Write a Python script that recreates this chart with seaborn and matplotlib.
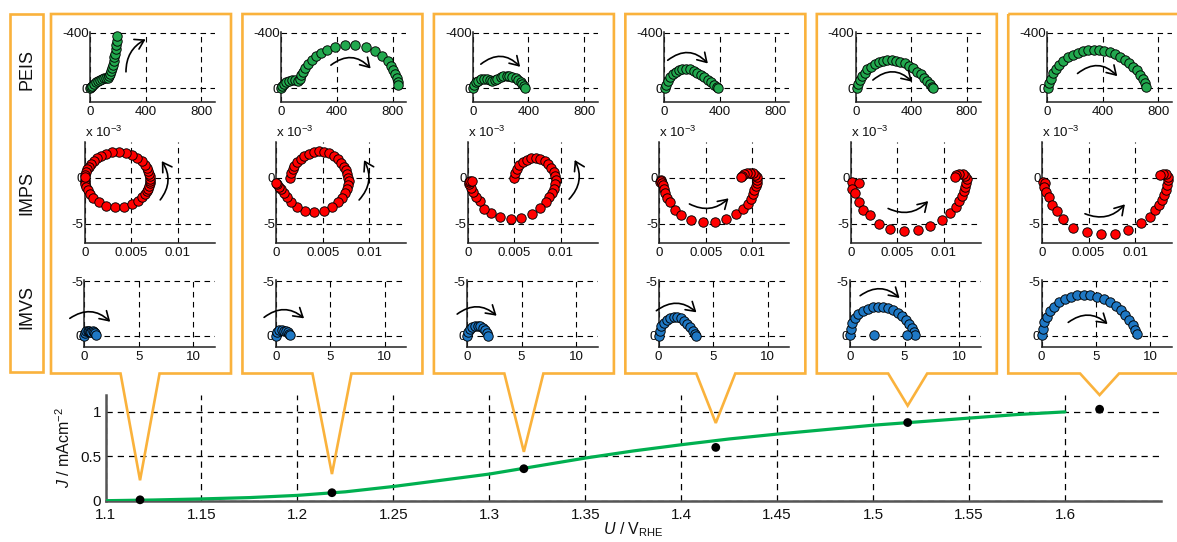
import matplotlib
matplotlib.use("Agg")
import matplotlib.pyplot as plt
import seaborn as sns
from matplotlib.patches import Polygon, Rectangle

# ---------------- data ----------------
# PEIS (Z' / Ohm, Z'' / Ohm)
peis1_re = [0, 8, 16, 28, 40, 55, 70, 85, 100, 115, 130, 140, 146, 152, 158, 164, 170, 175, 180, 184, 188, 192, 196]
peis1_im = [0, -10, -20, -32, -45, -55, -62, -68, -72, -75, -78, -88, -105, -125, -148, -170, -195, -222, -250, -280, -310, -342, -376]
peis2_re = [0, 7, 19, 36, 56, 78, 99, 119, 133, 143, 155, 172, 194, 218, 250, 284, 327, 388, 461, 533, 606, 671, 725, 764, 788, 805, 819, 829, 836, 841]
peis2_im = [0, -17, -31, -43, -52, -57, -57, -55, -67, -93, -121, -150, -178, -207, -236, -257, -278, -300, -314, -312, -298, -269, -236, -200, -164, -131, -102, -74, -48, -21]
peis3_re = [0, 7, 19, 36, 55, 77, 98, 120, 139, 158, 177, 199, 220, 242, 263, 285, 307, 326, 343, 357, 367, 374]
peis3_im = [0, -24, -43, -55, -64, -69, -67, -60, -55, -57, -67, -79, -86, -90, -88, -83, -74, -60, -45, -31, -17, -2]
peis4_re = [5, 12, 24, 41, 60, 82, 106, 130, 157, 183, 210, 236, 263, 289, 313, 337, 359, 378, 388]
peis4_im = [0, -24, -52, -79, -102, -121, -133, -140, -140, -136, -126, -112, -95, -79, -60, -43, -26, -12, 0]
peis5_re = [7, 14, 27, 43, 63, 84, 108, 135, 164, 195, 227, 258, 289, 321, 352, 383, 415, 443, 470, 494, 516, 535, 552, 559]
peis5_im = [0, -31, -60, -88, -114, -138, -157, -174, -188, -198, -202, -202, -198, -190, -179, -162, -143, -121, -100, -76, -52, -31, -12, 0]
peis6_re = [7, 15, 27, 44, 63, 87, 116, 148, 182, 218, 257, 296, 335, 373, 412, 451, 487, 524, 558, 589, 618, 645, 669, 689, 703, 713]
peis6_im = [0, -36, -71, -107, -140, -171, -200, -224, -243, -257, -269, -274, -276, -274, -269, -259, -245, -229, -207, -183, -157, -129, -98, -67, -36, -7]

# IMPS (x 1e-3)
imps1_re = [0.00, 0.01, 0.05, 0.14, 0.28, 0.53, 0.90, 1.49, 2.30, 3.26, 4.23, 5.09, 5.75, 6.18, 6.47, 6.67, 6.81, 6.91, 6.97, 7.00,
            7.00, 6.97, 6.92, 6.83, 6.67, 6.44, 6.10, 5.65, 5.09, 4.41, 3.68, 2.95, 2.30, 1.75, 1.30, 0.94, 0.63, 0.41, 0.25, 0.14, 0.05, 0.02]
imps1_im = [-0.20, -0.46, -0.72, -1.03, -1.37, -1.79, -2.21, -2.66, -3.02, -3.19, -3.13, -2.87, -2.50, -2.13, -1.79, -1.47, -1.18, -0.88, -0.62, -0.36,
            -0.10, 0.17, 0.42, 0.73, 1.07, 1.43, 1.81, 2.16, 2.47, 2.70, 2.80, 2.76, 2.62, 2.40, 2.13, 1.85, 1.52, 1.21, 0.92, 0.63, 0.32, 0.11]
imps2_re = [1.51, 1.58, 1.73, 1.94, 2.23, 2.59, 3.02, 3.49, 4.03, 4.57, 5.11, 5.65, 6.19, 6.62, 6.98, 7.27, 7.49, 7.63, 7.74, 7.78,
            7.74, 7.63, 7.42, 7.09, 6.66, 6.01, 5.11, 4.03, 3.06, 2.23, 1.58, 1.15, 0.79, 0.50, 0.25, 0.07, 0.00]
imps2_im = [0.00, 0.47, 0.90, 1.30, 1.66, 2.02, 2.34, 2.59, 2.77, 2.84, 2.81, 2.63, 2.34, 1.98, 1.58, 1.19, 0.79, 0.40, 0.00, -0.40,
            -0.79, -1.22, -1.69, -2.20, -2.66, -3.13, -3.56, -3.74, -3.64, -3.20, -2.59, -2.05, -1.62, -1.26, -0.97, -0.72, -0.54]
imps3_re = [4.96, 5.07, 5.25, 5.54, 5.90, 6.34, 6.81, 7.31, 7.78, 8.25, 8.65, 8.98, 9.23, 9.38, 9.45, 9.41, 9.27, 9.05, 8.76, 8.36,
            7.78, 6.88, 5.76, 4.67, 3.51, 2.50, 1.70, 1.27, 0.87, 0.54, 0.33, 0.14, 0.07, 0.25, 0.47]
imps3_im = [0.00, 0.47, 0.90, 1.34, 1.70, 1.95, 2.10, 2.17, 2.06, 1.81, 1.45, 1.05, 0.62, 0.18, -0.25, -0.72, -1.19, -1.67, -2.14, -2.64,
            -3.29, -3.91, -4.34, -4.49, -4.24, -3.87, -3.40, -2.57, -2.06, -1.59, -1.12, -0.72, -0.47, -0.36, -0.40]
imps4_re = [0.04, 0.22, 0.14, 0.29, 0.36, 0.47, 0.65, 0.86, 1.15, 1.69, 2.30, 3.42, 4.75, 6.01, 7.20, 8.24, 9.00, 9.50, 9.83, 10.04,
            10.22, 10.37, 10.48, 10.51, 10.48, 10.33, 10.08, 9.76, 9.43, 9.14, 8.89, 8.78]
imps4_im = [-0.43, -0.25, -0.36, -0.54, -0.83, -1.22, -1.69, -2.16, -2.66, -3.49, -4.03, -4.57, -4.82, -4.75, -4.46, -3.92, -3.38, -2.81, -2.27, -1.80,
            -1.33, -0.90, -0.54, -0.22, 0.11, 0.32, 0.47, 0.54, 0.50, 0.40, 0.22, 0.04]
imps5_re = [0.18, 0.91, 0.11, 0.47, 0.83, 1.30, 2.10, 3.00, 4.20, 5.76, 7.24, 8.54, 9.85, 10.72, 11.29, 11.69, 11.95, 12.16, 12.31, 12.45,
            12.49, 12.34, 12.05, 11.69, 11.37, 11.22]
imps5_im = [-0.51, -0.54, -1.23, -1.63, -2.61, -3.51, -4.05, -4.96, -5.50, -5.76, -5.68, -5.25, -4.60, -3.80, -3.15, -2.53, -1.99, -1.45, -0.98, -0.54,
            -0.18, 0.18, 0.36, 0.40, 0.29, 0.11]
imps6_re = [0.07, 0.33, 0.15, 0.40, 0.69, 1.06, 1.61, 2.23, 3.36, 4.82, 6.28, 7.88, 9.27, 10.62, 11.57, 12.19, 12.56, 12.85, 13.10, 13.29,
            13.43, 13.54, 13.50, 13.29, 12.99, 12.70]
imps6_im = [-0.44, -0.55, -0.99, -1.53, -2.08, -2.99, -3.61, -4.45, -5.44, -5.91, -6.10, -6.10, -5.62, -4.89, -4.20, -3.54, -2.99, -2.45, -1.90, -1.35,
            -0.80, -0.26, 0.11, 0.37, 0.40, 0.26]

# IMVS
imvs1_re = [0.00, 0.05, 0.15, 0.30, 0.45, 0.55, 0.65, 0.78, 0.90, 1.00, 1.05]
imvs1_im = [0.00, -0.25, -0.40, -0.48, -0.45, -0.32, -0.30, -0.40, -0.38, -0.22, -0.05]
imvs2_re = [0.00, 0.10, 0.30, 0.55, 0.75, 0.90, 1.10, 1.25, 1.35]
imvs2_im = [0.00, -0.30, -0.50, -0.55, -0.45, -0.40, -0.35, -0.20, -0.05]
imvs3_re = [0.00, 0.09, 0.25, 0.46, 0.71, 0.95, 1.20, 1.44, 1.63, 1.78, 1.90]
imvs3_im = [0.00, -0.30, -0.58, -0.76, -0.88, -0.92, -0.85, -0.70, -0.49, -0.24, 0.00]
imvs4_re = [0.00, 0.09, 0.25, 0.46, 0.74, 1.04, 1.38, 1.72, 2.06, 2.36, 2.64, 2.92, 3.16, 3.35, 3.47]
imvs4_im = [0.00, -0.46, -0.85, -1.19, -1.46, -1.65, -1.74, -1.71, -1.59, -1.37, -1.10, -0.79, -0.46, -0.18, 0.00]
imvs5_re = [0.00, 0.06, 0.21, 0.46, 0.77, 1.17, 1.60, 2.09, 2.55, 3.01, 3.47, 3.93, 4.36, 4.76, 5.10, 5.40, 5.65, 5.83, 5.99, 2.24, 5.22]
imvs5_im = [-0.06, -0.61, -1.13, -1.59, -1.98, -2.29, -2.47, -2.59, -2.65, -2.62, -2.53, -2.35, -2.07, -1.77, -1.43, -1.07, -0.70, -0.37, -0.06, -0.06, -0.06]
imvs6_re = [0.00, 0.09, 0.24, 0.48, 0.79, 1.15, 1.61, 2.12, 2.67, 3.27, 3.88, 4.48, 5.09, 5.70, 6.24, 6.79, 7.27, 7.70, 8.06, 8.36, 8.57, 8.73]
imvs6_im = [-0.06, -0.61, -1.22, -1.74, -2.23, -2.65, -3.05, -3.36, -3.57, -3.69, -3.72, -3.69, -3.57, -3.36, -3.08, -2.75, -2.35, -1.92, -1.46, -0.98, -0.52, -0.15]

# J-U curve
u_fit = [1.100, 1.125, 1.150, 1.175, 1.200, 1.225, 1.250, 1.275, 1.300, 1.325, 1.350,
         1.375, 1.400, 1.425, 1.450, 1.475, 1.500, 1.525, 1.550, 1.575, 1.600]
j_fit = [0.000, 0.008, 0.020, 0.035, 0.060, 0.100, 0.160, 0.230, 0.300, 0.390, 0.480,
         0.560, 0.630, 0.695, 0.750, 0.800, 0.850, 0.890, 0.930, 0.970, 1.000]
u_pts = [1.118, 1.218, 1.318, 1.418, 1.518, 1.618]
j_pts = [0.01, 0.09, 0.36, 0.60, 0.88, 1.03]
j_tip = [0.23, 0.30, 0.55, 0.875, 1.07, 1.19]

row_labels = ["PEIS", "IMPS", "IMVS"]
u_ticks = [1.1, 1.15, 1.2, 1.25, 1.3, 1.35, 1.4, 1.45, 1.5, 1.55, 1.6]
u_ticklabels = ["1.1", "1.15", "1.2", "1.25", "1.3", "1.35", "1.4", "1.45", "1.5", "1.55", "1.6"]

# annotation arrows (start, end, curvature) in each small axes' data units
peis_arrows = [((259, -119), (400, -352), -0.3), ((356, -167), (642, -143), -0.45), ((57, -174), (340, -155), -0.45),
               ((24, -202), (313, -179), -0.45), ((123, -60), (405, -48), -0.45), ((218, -107), (504, -88), -0.45)]
imps_arrows = [((8.1, -2.4), (8.27, 1.8), 0.35), ((8.9, -2.41), (9.43, 1.9), 0.35), ((10.9, -2.32), (11.5, 1.92), 0.35),
               ((3.24, -2.84), (7.45, -2.23), 0.35), ((4.02, -3.33), (8.33, -2.53), 0.35), ((4.6, -3.9), (8.9, -2.88), 0.35)]
imvs_arrows = [((-1.33, -1.59), (2.38, -1.28), -0.4), ((-1.07, -1.68), (2.6, -1.59), -0.4), ((-0.92, -1.98), (2.7, -1.83), -0.4),
               ((-0.21, -2.29), (3.47, -2.14), -0.4), ((0.92, -3.66), (4.54, -3.45), -0.4), ((2.45, -1.22), (6.06, -1.07), -0.4)]

# ---------------- style ----------------
sns.set_theme(style="white")
plt.rcParams["font.family"] = ["Liberation Sans", "DejaVu Sans"]
plt.rcParams["axes.unicode_minus"] = False
plt.rcParams["mathtext.fontset"] = "custom"
plt.rcParams["mathtext.rm"] = "Liberation Sans"
plt.rcParams["mathtext.it"] = "Liberation Sans:italic"

GREEN = "#22A84E"
RED = "#FF0000"
BLUE = "#1F78C4"
ORANGE = "#FAB23C"
GRID = dict(color="black", linestyle=(0, (5, 4)), linewidth=0.8)
TICKFS = 9.6

W, H = 1177, 542
fig = plt.figure(figsize=(W / 100, H / 100), dpi=100)


def add_ax(left, top, right, bottom):
    return fig.add_axes([left / W, 1 - bottom / H, (right - left) / W, (bottom - top) / H])


def style_small(ax):
    for s in ("top", "right"):
        ax.spines[s].set_visible(False)
    for s in ("left", "bottom"):
        ax.spines[s].set_color("#222222")
        ax.spines[s].set_linewidth(1.1)
    ax.grid(True, **GRID)
    ax.set_axisbelow(True)
    ax.tick_params(length=0, labelsize=TICKFS, pad=1.0, colors="#111111")
    ax.tick_params(axis="x", pad=3)
    ax.set_xlabel("")
    ax.set_ylabel("")


def arrow(ax, spec):
    (x0, y0), (x1, y1), rad = spec
    ax.annotate("", xy=(x1, y1), xytext=(x0, y0), annotation_clip=False,
                arrowprops=dict(arrowstyle="->,head_length=0.45,head_width=0.28", color="black", lw=1.2,
                                connectionstyle=f"arc3,rad={rad}", shrinkA=0, shrinkB=0, mutation_scale=14))


peis_re = [peis1_re, peis2_re, peis3_re, peis4_re, peis5_re, peis6_re]
peis_im = [peis1_im, peis2_im, peis3_im, peis4_im, peis5_im, peis6_im]
imps_re = [imps1_re, imps2_re, imps3_re, imps4_re, imps5_re, imps6_re]
imps_im = [imps1_im, imps2_im, imps3_im, imps4_im, imps5_im, imps6_im]
imvs_re = [imvs1_re, imvs2_re, imvs3_re, imvs4_re, imvs5_re, imvs6_re]
imvs_im = [imvs1_im, imvs2_im, imvs3_im, imvs4_im, imvs5_im, imvs6_im]

MS = 46
for k in range(6):
    bl = 51 + 191.45 * k
    # PEIS
    ax = add_ax(bl + 39, 32.3, bl + 164, 102.3)
    sns.scatterplot(x=peis_re[k], y=peis_im[k], ax=ax, color=GREEN, edgecolor="black", linewidth=0.65,
                    s=MS, clip_on=False, zorder=3, legend=False)
    ax.set_xlim(0, 900)
    ax.set_ylim(100, -403)
    ax.set_xticks([0, 400, 800])
    ax.set_xticklabels(["0", "400", "800"])
    ax.set_yticks([-400, 0])
    ax.set_yticklabels(["-400", "0"])
    style_small(ax)
    arrow(ax, peis_arrows[k])

    # IMPS
    ax = add_ax(bl + 34, 141.7, bl + 164, 243.3)
    sns.scatterplot(x=[v * 1e-3 for v in imps_re[k]], y=[v * 1e-3 for v in imps_im[k]], ax=ax, color=RED,
                    edgecolor="black", linewidth=0.65, s=MS, clip_on=False, zorder=3, legend=False)
    ax.set_xlim(0, 0.014)
    ax.set_ylim(-0.0071, 0.0039)
    ax.set_xticks([0, 0.005, 0.01])
    ax.set_xticklabels(["0", "0.005", "0.01"])
    ax.set_yticks([-0.005, 0])
    ax.set_yticklabels(["-5", "0"])
    style_small(ax)
    ax.text(0.0, 1.02, r"x 10$^{-3}$", transform=ax.transAxes, ha="left", va="bottom", fontsize=TICKFS, color="#111111")
    s = imps_arrows[k]
    arrow(ax, ((s[0][0] * 1e-3, s[0][1] * 1e-3), (s[1][0] * 1e-3, s[1][1] * 1e-3), s[2]))

    # IMVS
    ax = add_ax(bl + 33.3, 280.5, bl + 164, 346.7)
    sns.scatterplot(x=imvs_re[k], y=imvs_im[k], ax=ax, color=BLUE, edgecolor="black", linewidth=0.65,
                    s=MS, clip_on=False, zorder=3, legend=False)
    ax.set_xlim(0, 12)
    ax.set_ylim(1, -5.05)
    ax.set_xticks([0, 5, 10])
    ax.set_xticklabels(["0", "5", "10"])
    ax.set_yticks([-5, 0])
    ax.set_yticklabels(["-5", "0"])
    style_small(ax)
    arrow(ax, imvs_arrows[k])

# ---------------- main J-U axes ----------------
axm = add_ax(105.5, 395, 1161, 500.7)
sns.lineplot(x=u_fit, y=j_fit, ax=axm, color="#00B050", linewidth=2.3, zorder=3)
sns.scatterplot(x=u_pts, y=j_pts, ax=axm, color="black", edgecolor="none", s=40, zorder=4, clip_on=False, legend=False)
axm.set_xlim(1.1, 1.65)
axm.set_ylim(0, 1.19)
axm.set_xticks(u_ticks)
axm.set_xticklabels(u_ticklabels)
axm.set_yticks([0, 0.5, 1])
axm.set_yticklabels(["0", "0.5", "1"])
for s in ("top", "right"):
    axm.spines[s].set_visible(False)
for s in ("left", "bottom"):
    axm.spines[s].set_color("#555555")
    axm.spines[s].set_linewidth(1.8)
axm.grid(True, color="black", linestyle=(0, (5, 4)), linewidth=0.9)
axm.set_axisbelow(True)
axm.tick_params(length=0, labelsize=11, pad=3, colors="#111111")
axm.tick_params(axis="x", pad=5)
axm.set_xlabel(r"$U$ / V$_{\mathrm{RHE}}$", fontsize=11.5, labelpad=-1, color="#111111")
axm.set_ylabel(r"$J$ / mAcm$^{-2}$", fontsize=11.5, labelpad=5, color="#111111")

# ---------------- orange callout boxes ----------------
fig.canvas.draw()
TOP, BOT = 14, 373.5
fig.add_artist(Rectangle((10 / W, 1 - 372.3 / H), 32.7 / W, (372.3 - TOP) / H, transform=fig.transFigure,
                         fill=False, edgecolor=ORANGE, linewidth=1.9))
for lab, yc in zip(row_labels, [70, 193, 307]):
    fig.text(27 / W, 1 - yc / H, lab, rotation=90, ha="center", va="center", fontsize=13, color="#111111")

for k in range(6):
    L = 51 + 191.45 * k
    R = L + 180
    tx, ty = axm.transData.transform((u_pts[k], j_tip[k]))
    ty_top = H - ty
    verts = [(L, TOP), (R, TOP), (R, BOT), (tx + 19.5, BOT), (tx, ty_top), (tx - 19.5, BOT), (L, BOT)]
    verts = [(x / W, 1 - y / H) for x, y in verts]
    fig.add_artist(Polygon(verts, closed=True, fill=False, edgecolor=ORANGE, linewidth=1.9,
                           joinstyle="miter", transform=fig.transFigure, zorder=10))

fig.savefig("out.png", dpi=100)
